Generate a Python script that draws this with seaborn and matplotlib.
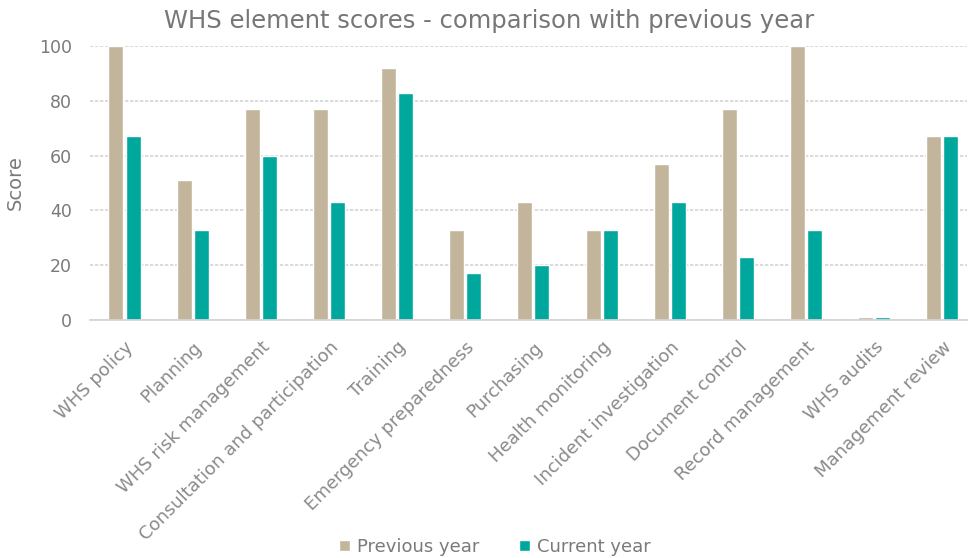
import matplotlib
matplotlib.use("Agg")
import matplotlib.pyplot as plt
import seaborn as sns
import pandas as pd

categories = ["WHS policy", "Planning", "WHS risk management", "Consultation and participation",
              "Training", "Emergency preparedness", "Purchasing", "Health monitoring",
              "Incident investigation", "Document control", "Record management", "WHS audits",
              "Management review"]
previous_year = [100, 51, 77, 77, 92, 33, 43, 33, 57, 77, 100, 1, 67]
current_year = [67, 33, 60, 43, 83, 17, 20, 33, 43, 23, 33, 1, 67]
series_names = ["Previous year", "Current year"]
colors = ["#C2B59B", "#00A79D"]

df = pd.DataFrame({
    "Element": categories * 2,
    "Score": previous_year + current_year,
    "Series": [series_names[0]] * len(categories) + [series_names[1]] * len(categories),
})

sns.set_theme(style="white")
plt.rcParams["font.family"] = ["DejaVu Sans"]
text_color = "#7a7a7a"

fig = plt.figure(figsize=(9.68, 5.58), dpi=100)
ax = fig.add_axes([90 / 968, 1 - 320 / 558, 877 / 968, 274 / 558])

sns.barplot(data=df, x="Element", y="Score", hue="Series", palette=colors,
            width=0.5, gap=0.12, ax=ax, saturation=1, legend=True)

ax.set_ylim(0, 100)
ax.set_yticks([0, 20, 40, 60, 80, 100])
ax.set_xlim(-0.506, 12.36)
ax.yaxis.grid(True, color="#d4d4d4", linewidth=1.2, linestyle=(0, (2, 1)))
ax.set_axisbelow(True)
for s in ["top", "right", "left"]:
    ax.spines[s].set_visible(False)
ax.spines["bottom"].set_color("#d4d4d4")
ax.tick_params(axis="y", colors=text_color, labelsize=12.5, length=0, pad=13)
ax.tick_params(axis="x", colors="#8a8a8a", labelsize=13, length=0, pad=13)
plt.setp(ax.get_xticklabels(), rotation=45, ha="right", rotation_mode="anchor")
ax.set_xlabel("")
ax.set_ylabel("Score", color=text_color, fontsize=14, labelpad=10)
ax.set_title("WHS element scores - comparison with previous year", color="#777777",
             fontsize=17.5, pad=13, x=0.455)

leg = ax.legend(loc="center", bbox_to_anchor=(0.462, -0.828), ncol=2, frameon=False,
                fontsize=13, handlelength=0.6, handleheight=0.6, handletextpad=0.4,
                columnspacing=2.2)
for t in leg.get_texts():
    t.set_color(text_color)

fig.savefig("out.png", dpi=100)
